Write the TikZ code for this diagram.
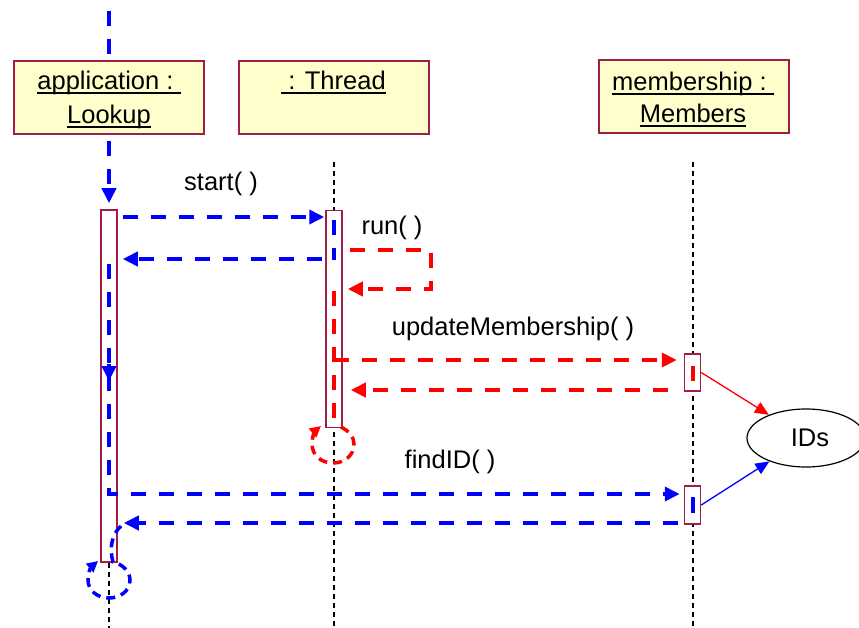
\documentclass[tikz,border=0pt]{standalone}
\usepackage{fontspec}
\setmainfont{Liberation Sans}
\usetikzlibrary{arrows.meta,shapes.geometric}
\definecolor{boxc}{RGB}{160,30,70}
\definecolor{boxfill}{RGB}{255,255,204}
\newcommand\fs{\fontsize{25.5}{30}\selectfont}
\newsavebox\ulbox
\newcommand\ulx[1]{\sbox\ulbox{#1}\rlap{\rule[-4pt]{\wd\ulbox}{1.6pt}}\usebox\ulbox}
\begin{document}
\begin{tikzpicture}[x=1pt,y=-1pt,
 objbox/.style={draw=boxc,fill=boxfill,line width=2pt,minimum width=190pt,minimum height=73pt,inner sep=0pt},
 actbox/.style={draw=boxc,fill=white,line width=1.5pt,minimum width=16pt,inner sep=0pt},
 lifeline/.style={black,line width=1.4pt,dash pattern=on 5pt off 4pt},
 ctrl/.style={line width=4pt,dash pattern=on 15pt off 13pt},
 curl/.style={line width=3.5pt,dash pattern=on 9pt off 6pt},
 tip/.style={-{Triangle[length=15pt,width=14pt]}},
 curltip/.style={-{Triangle[length=11pt,width=11pt]}},
 thinarrow/.style={line width=1.3pt,-{Triangle[length=14pt,width=12pt]}},
 txt/.style={font=\fs,inner sep=0pt,anchor=base},
]
\clip (0,0) rectangle (859,628);
\coordinate (appTop) at (109,11);
\coordinate (appEnd) at (109,628);
\coordinate (thrLife) at (334,162);
\coordinate (thrEnd) at (334,628);
\coordinate (memLife) at (693,162);
\coordinate (memEnd) at (693,628);
% lifelines
\draw[lifeline] (thrLife) -- (thrEnd);
\draw[lifeline] (memLife) -- (memEnd);
% object boxes
\node[objbox] (app) at (109,97.5) {};
\node[objbox] (thr) at (333.5,97.5) {};
\node[objbox] (mem) at (693.5,97) {};
\node[txt] (lApp1) at (109,90) {\ulx{application :~}};
\node[txt] (lApp2) at (109,124) {\ulx{Lookup}};
\node[txt] (lThr) at (333.5,90) {\ulx{~: Thread}};
\node[txt] (lMem1) at (693,91) {\ulx{membership :~}};
\node[txt] (lMem2) at (693,123) {\ulx{Members}};
% activations
\node[actbox,minimum height=352pt] (appAct) at (109,386) {};
\node[actbox,minimum height=217pt] (thrAct) at (334,319) {};
\node[actbox,minimum height=37pt] (memAct1) at (692.5,372.5) {};
\node[actbox,minimum height=38pt] (memAct2) at (692.5,505) {};
\draw[lifeline] (appAct.south) -- (appEnd);
% IDs
\node[draw=black,line width=1.2pt,ellipse,minimum width=118pt,minimum height=58pt,inner sep=0pt,font=\fs] (ids) at (806,438) {\hspace*{8pt}IDs};
% blue control flow
\draw[blue,ctrl] (appTop) -- (app.north);
\draw[blue,ctrl,tip,shorten <=6pt,shorten >=6pt] (app.south) -- (appAct.north);
\draw[blue,ctrl,tip,shorten <=5pt,shorten >=1pt] (appAct.east |- 0,217) -- (thrAct.west |- 0,217);
\draw[blue,ctrl] (thrAct.center |- 0,220) -- (thrAct.center |- 0,260);
\draw[blue,ctrl,tip,shorten <=3pt,shorten >=5pt] (thrAct.west |- 0,259) -- (appAct.east |- 0,259);
\draw[blue,ctrl,tip,shorten >=4pt] (appAct.center |- 0,264) -- (appAct.center |- 0,494) -- (memAct2.west |- 0,494);
\draw[blue,line width=4pt,tip] (appAct.center |- 0,364) -- (appAct.center |- 0,381);
\draw[blue,ctrl,tip,shorten <=6pt,shorten >=6pt] (memAct2.west |- 0,523) -- (appAct.east |- 0,523);
\draw[blue,curl,curltip] (121,526) .. controls (112,534) and (109,548) .. (113,562) .. controls (122,564) and (130,571) .. (130,580) .. controls (130,591) and (120,598) .. (109,598) .. controls (98,598) and (88,591) .. (88,580) .. controls (88,573) and (91,567) .. (98,561);
% red control flow
\draw[red,ctrl,tip,shorten <=7pt,shorten >=5pt] (thrAct.east |- 0,250) -- ++(88,0) -- ++(0,39) -- (thrAct.east |- 0,289);
\draw[red,ctrl] (thrAct.center |- 0,291) -- (thrAct.center |- 0,427);
\draw[red,ctrl,tip,shorten >=7pt] (thrAct.center |- 0,360) -- (memAct1.west |- 0,360);
\draw[red,ctrl,tip,shorten <=16pt,shorten >=8pt] (memAct1.west |- 0,390) -- (thrAct.east |- 0,390);
\draw[red,curl,curltip] (341,427) .. controls (349,431) and (354,437) .. (354,444) .. controls (354,455) and (345,463) .. (333,463) .. controls (321,463) and (312,455) .. (312,444) .. controls (312,437) and (315,431) .. (321,426);
\draw[red,line width=4pt] ([yshift=6.5pt]memAct1.center) -- ([yshift=-8.5pt]memAct1.center);
\draw[blue,line width=4pt] ([yshift=8pt]memAct2.center) -- ([yshift=-8pt]memAct2.center);
% data access
\draw[red,thinarrow] (memAct1.east) -- (ids);
\draw[blue,thinarrow] (memAct2.east) -- (ids);
% message labels
\node[txt] (mStart) at (221,191) {start( )};
\node[txt] (mRun) at (392,235) {run( )};
\node[txt] (mUpd) at (513,335) {updateMembership( )};
\node[txt] (mFind) at (450,468) {findID( )};
\end{tikzpicture}
\end{document}
